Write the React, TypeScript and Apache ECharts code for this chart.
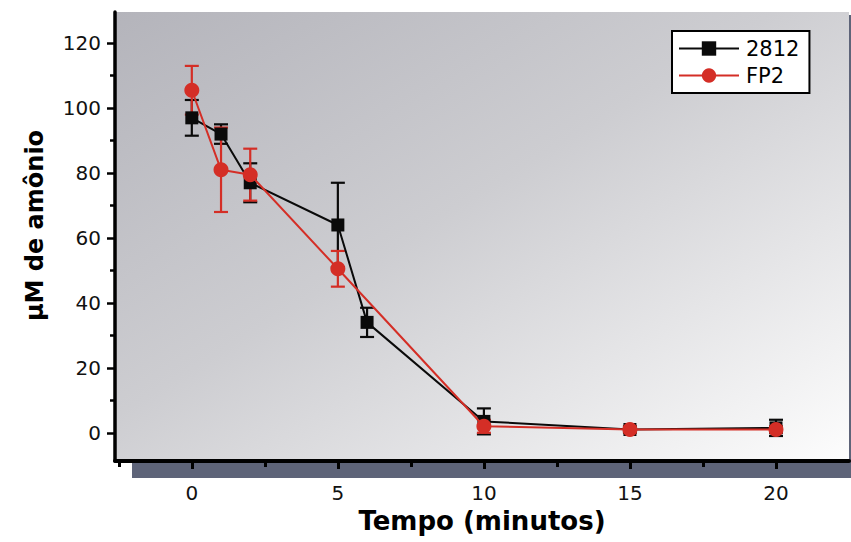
import React, { useEffect, useRef } from "react";
import * as echarts from "echarts";

const times2812 = [0, 1, 2, 5, 6, 10, 15, 20];
const mean2812 = [97, 92, 77, 64, 34, 3.5, 1, 1.5];
const err2812 = [5.5, 3, 6, 13, 4.5, 4, 0.8, 2.5];

const timesFP2 = [0, 1, 2, 5, 10, 15, 20];
const meanFP2 = [105.5, 81, 79.5, 50.5, 2, 1, 1];
const errFP2 = [7.5, 13, 8, 5.5, 2, 1, 1];

const xLabelValues = [0, 5, 10, 15, 20];
const xMinorTicks = [-2.5, 2.5, 7.5, 12.5, 17.5];
const yLabelValues = [0, 20, 40, 60, 80, 100, 120];
const yMinorTicks = [10, 30, 50, 70, 90, 110];

const BLACK = "#0a0a0a";
const RED = "#d42e26";
const FONT = "DejaVu Sans";

const X_MIN = -2.63;
const X_MAX = 22.5;
const Y_MIN = -8.7;
const Y_MAX = 129.6;

function errorSeries(name: string, xs: number[], ms: number[], es: number[], color: string) {
  return {
    type: "custom",
    name: name + "-err",
    data: xs.map((x, i) => [x, ms[i] - es[i], ms[i] + es[i]]),
    encode: { x: 0, y: [1, 2] },
    z: 1,
    silent: true,
    renderItem: (params: any, api: any) => {
      const x = api.value(0);
      const lo = api.coord([x, api.value(1)]);
      const hi = api.coord([x, api.value(2)]);
      const w = 7;
      const style = { stroke: color, lineWidth: 2.2 };
      return {
        type: "group",
        children: [
          { type: "line", shape: { x1: hi[0], y1: hi[1], x2: lo[0], y2: lo[1] }, style },
          { type: "line", shape: { x1: hi[0] - w, y1: hi[1], x2: hi[0] + w, y2: hi[1] }, style },
          { type: "line", shape: { x1: lo[0] - w, y1: lo[1], x2: lo[0] + w, y2: lo[1] }, style },
        ],
      };
    },
  };
}

export default function App() {
  const ref = useRef<HTMLDivElement>(null);
  useEffect(() => {
    if (!ref.current) return;
    const chart = echarts.init(ref.current, null, { renderer: "svg" });
    const tickLabelStyle = { fontFamily: FONT, fontSize: 20, color: "#111" };
    chart.setOption({
      animation: false,
      backgroundColor: "#ffffff",
      grid: {
        left: 115,
        right: 2,
        top: 12,
        bottom: 81,
        show: true,
        borderWidth: 0,
        backgroundColor: new echarts.graphic.LinearGradient(0, 0, 1, 1, [
          { offset: 0, color: "#b4b4bb" },
          { offset: 0.45, color: "#cdcdd1" },
          { offset: 1, color: "#fdfdfd" },
        ]),
      },
      graphic: [
        {
          type: "rect",
          z: -1,
          shape: { x: 132, y: 463, width: 719, height: 15 },
          style: { fill: "#5e6479" },
        },
        {
          type: "rect",
          z: -1,
          shape: { x: 847, y: 15, width: 4, height: 463 },
          style: { fill: "#5e6479" },
        },
      ],
      legend: {
        data: ["2812", "FP2"],
        orient: "vertical",
        left: 672,
        top: 31,
        backgroundColor: "#ffffff",
        borderColor: "#000",
        borderWidth: 2,
        borderRadius: 0,
        padding: [7, 10, 7, 6],
        itemWidth: 60,
        itemHeight: 18,
        itemGap: 6,
        textStyle: { fontFamily: FONT, fontSize: 21, color: "#000", padding: [0, 0, 0, 2] },
      },
      xAxis: [
        {
          type: "value",
          min: X_MIN,
          max: X_MAX,
          name: "Tempo (minutos)",
          nameLocation: "middle",
          nameGap: 46,
          nameTextStyle: { fontFamily: FONT, fontSize: 26, fontWeight: "bold", color: "#000" },
          axisLine: { show: true, onZero: false, lineStyle: { color: "#000", width: 4 } },
          axisTick: { show: true, customValues: xLabelValues, length: 8, lineStyle: { color: "#000", width: 3 } },
          axisLabel: { customValues: xLabelValues, margin: 22, ...tickLabelStyle },
          splitLine: { show: false },
        },
        {
          type: "value",
          min: X_MIN,
          max: X_MAX,
          position: "bottom",
          axisLine: { show: false, onZero: false },
          axisTick: { show: true, customValues: xMinorTicks, length: 6, lineStyle: { color: "#000", width: 3 } },
          axisLabel: { show: false },
          splitLine: { show: false },
        },
      ],
      yAxis: [
        {
          type: "value",
          min: Y_MIN,
          max: Y_MAX,
          name: "µM de amônio",
          nameLocation: "middle",
          nameGap: 68,
          nameTextStyle: {
            fontFamily: FONT,
            fontSize: 24,
            fontWeight: "bold",
            color: "#000",
            padding: [0, 0, 0, 22],
          },
          axisLine: { show: true, onZero: false, lineStyle: { color: "#000", width: 3.5 } },
          axisTick: { show: true, customValues: yLabelValues, length: 8, lineStyle: { color: "#000", width: 2.5 } },
          axisLabel: { customValues: yLabelValues, margin: 14, ...tickLabelStyle },
          splitLine: { show: false },
        },
        {
          type: "value",
          min: Y_MIN,
          max: Y_MAX,
          position: "left",
          axisLine: { show: false, onZero: false },
          axisTick: { show: true, customValues: yMinorTicks, length: 5, lineStyle: { color: "#000", width: 2.5 } },
          axisLabel: { show: false },
          splitLine: { show: false },
        },
      ],
      series: [
        errorSeries("2812", times2812, mean2812, err2812, BLACK),
        errorSeries("FP2", timesFP2, meanFP2, errFP2, RED),
        {
          type: "line",
          name: "2812",
          data: times2812.map((x, i) => [x, mean2812[i]]),
          symbol: "rect",
          symbolSize: 13,
          z: 3,
          itemStyle: { color: BLACK },
          lineStyle: { color: BLACK, width: 2 },
        },
        {
          type: "line",
          name: "FP2",
          data: timesFP2.map((x, i) => [x, meanFP2[i]]),
          symbol: "circle",
          symbolSize: 15,
          z: 4,
          itemStyle: { color: RED },
          lineStyle: { color: RED, width: 2 },
        },
      ],
    });
    return () => chart.dispose();
  }, []);
  return (
    <div
      ref={ref}
      style={{ position: "fixed", left: 0, top: 0, width: 851, height: 542 }}
    />
  );
}
